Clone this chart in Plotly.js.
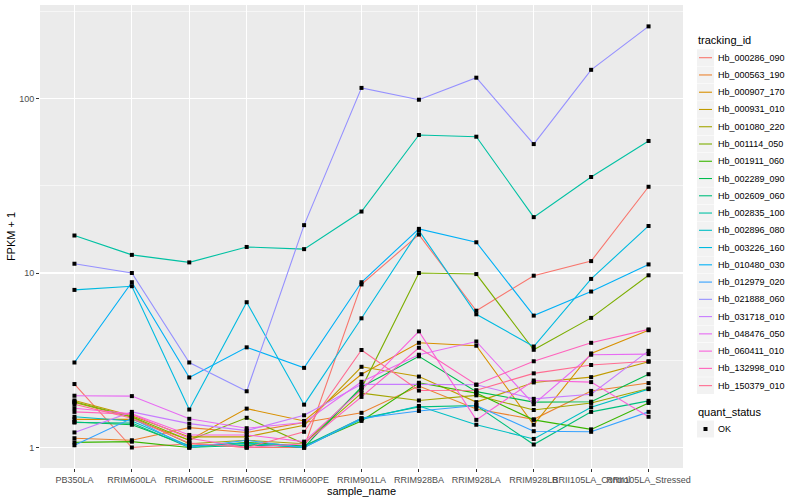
<!DOCTYPE html>
<html><head><meta charset="utf-8">
<script src="https://cdn.plot.ly/plotly-3.0.1.min.js"></script>
<style>html,body{margin:0;padding:0;background:#fff}</style>
</head><body><div id="chart" style="width:800px;height:500px"></div>
<script>
// ---- data ----
const sampleNames = ["PB350LA","RRIM600LA","RRIM600LE","RRIM600SE","RRIM600PE","RRIM901LA","RRIM928BA","RRIM928LA","RRIM928LB","RRII105LA_Control","RRII105LA_Stressed"];
const trackingIds = ["Hb_000286_090","Hb_000563_190","Hb_000907_170","Hb_000931_010","Hb_001080_220","Hb_001114_050","Hb_001911_060","Hb_002289_090","Hb_002609_060","Hb_002835_100","Hb_002896_080","Hb_003226_160","Hb_010480_030","Hb_012979_020","Hb_021888_060","Hb_031718_010","Hb_048476_050","Hb_060411_010","Hb_132998_010","Hb_150379_010"];
const fpkm_000286_090 = [2.31, 1.00, 1.05, 1.00, 1.00, 8.6, 16.6, 6.08, 9.65, 11.7, 31.2];
const fpkm_000563_190 = [1.13, 1.10, 1.30, 1.22, 1.39, 1.58, 2.25, 1.66, 1.45, 2.11, 2.34];
const fpkm_000907_170 = [1.45, 1.45, 1.10, 1.67, 1.42, 2.63, 3.98, 3.83, 1.35, 3.46, 4.70];
const fpkm_000931_010 = [1.86, 1.52, 1.15, 1.15, 1.34, 2.90, 2.55, 1.82, 2.36, 2.53, 3.10];
const fpkm_001080_220 = [1.81, 1.49, 1.05, 1.10, 1.05, 2.05, 1.86, 1.99, 1.64, 1.80, 2.18];
const fpkm_001114_050 = [1.83, 1.50, 1.10, 1.48, 1.05, 2.19, 10.0, 9.86, 3.63, 5.53, 9.70];
const fpkm_001911_060 = [1.07, 1.08, 1.00, 1.07, 1.02, 1.42, 2.35, 2.05, 1.44, 1.27, 1.80];
const fpkm_002289_090 = [1.40, 1.35, 1.02, 1.05, 1.00, 2.22, 3.33, 2.09, 1.82, 1.83, 2.63];
const fpkm_002609_060 = [1.39, 1.38, 1.00, 1.03, 1.02, 1.47, 1.71, 1.74, 1.04, 1.60, 1.85];
const fpkm_002835_100 = [16.4, 12.7, 11.5, 14.1, 13.7, 22.5, 61.8, 60.4, 20.9, 35.5, 57.1];
const fpkm_002896_080 = [1.50, 1.42, 1.02, 1.06, 1.00, 1.45, 1.73, 1.35, 1.12, 1.70, 2.16];
const fpkm_003226_160 = [8.0, 8.4, 1.65, 6.8, 1.76, 5.5, 17.5, 5.8, 3.79, 9.25, 18.6];
const fpkm_010480_030 = [3.07, 8.85, 2.52, 3.75, 2.86, 8.85, 17.9, 15.0, 5.7, 7.83, 11.2];
const fpkm_012979_020 = [1.03, 1.47, 1.00, 1.10, 1.00, 1.47, 1.62, 1.74, 1.24, 1.23, 1.60];
const fpkm_021888_060 = [11.3, 10.0, 3.07, 2.10, 18.8, 115, 98.4, 131.6, 54.8, 146, 259];
const fpkm_031718_010 = [1.22, 1.60, 1.37, 1.25, 1.53, 2.30, 2.30, 2.29, 1.90, 2.02, 3.58];
const fpkm_048476_050 = [1.98, 1.97, 1.46, 1.29, 1.39, 2.38, 3.40, 4.05, 1.77, 3.40, 3.43];
const fpkm_060411_010 = [1.68, 1.56, 1.18, 1.18, 1.08, 2.14, 4.63, 1.44, 2.42, 2.37, 1.50];
const fpkm_132998_010 = [1.60, 1.55, 1.13, 1.00, 1.05, 1.95, 3.73, 2.29, 3.12, 3.98, 4.75];
const fpkm_150379_010 = [1.77, 1.47, 1.06, 1.00, 1.23, 3.62, 2.12, 2.13, 2.66, 2.97, 3.12];
const seriesValues = [fpkm_000286_090, fpkm_000563_190, fpkm_000907_170, fpkm_000931_010, fpkm_001080_220, fpkm_001114_050, fpkm_001911_060, fpkm_002289_090, fpkm_002609_060, fpkm_002835_100, fpkm_002896_080, fpkm_003226_160, fpkm_010480_030, fpkm_012979_020, fpkm_021888_060, fpkm_031718_010, fpkm_048476_050, fpkm_060411_010, fpkm_132998_010, fpkm_150379_010];
const quantStatus = ["OK"];
const yTickVals = [1, 10, 100];
const yTickText = ["1", "10", "100"];

// ---- style ----
const colors = ["#F8766D","#EA8331","#D89000","#C09B00","#A3A500","#7CAE00","#39B600","#00BB4E","#00BF7D","#00C1A3","#00BFC4","#00BAE0","#00B0F6","#35A2FF","#9590FF","#C77CFF","#E76BF3","#FA62DB","#FF62BC","#FF6C91"];
const FONT = "Liberation Sans, Arial, Helvetica, sans-serif";
const W = 800, H = 500, M = {l: 40, r: 117, t: 5, b: 32};
const pw = W - M.l - M.r, ph = H - M.t - M.b;
const px = x => (x - M.l) / pw;
const py = y => (H - M.b - y) / ph;

const traces = [];
seriesValues.forEach((vals, i) => {
  traces.push({x: sampleNames, y: vals, type: "scatter", mode: "lines",
    line: {color: colors[i], width: 1.1}, name: trackingIds[i], hoverinfo: "skip"});
});
const allX = [], allY = [];
seriesValues.forEach(vals => vals.forEach((v, j) => { allX.push(sampleNames[j]); allY.push(v); }));
traces.push({x: allX, y: allY, type: "scatter", mode: "markers", name: quantStatus[0],
  marker: {symbol: "square", size: 4, color: "#000000"}, hoverinfo: "skip"});

// ---- manual ggplot-like legend ----
const shapes = [], annotations = [];
annotations.push({xref: "paper", yref: "paper", x: px(696), y: py(40), xanchor: "left", yanchor: "middle",
  text: "tracking_id", showarrow: false, font: {family: FONT, size: 11, color: "#000"}});
trackingIds.forEach((id, i) => {
  const c = 57.7 + 17.26 * i;
  shapes.push({type: "rect", xref: "paper", yref: "paper", x0: px(697), x1: px(714), y0: py(c + 8.4), y1: py(c - 8.4),
    fillcolor: "#F2F2F2", line: {width: 0}});
  shapes.push({type: "line", xref: "paper", yref: "paper", x0: px(699), x1: px(712), y0: py(c), y1: py(c),
    line: {color: colors[i], width: 1.1}});
  annotations.push({xref: "paper", yref: "paper", x: px(716), y: py(c), xanchor: "left", yanchor: "middle",
    text: id, showarrow: false, font: {family: FONT, size: 9, color: "#000"}});
});
annotations.push({xref: "paper", yref: "paper", x: px(696), y: py(412), xanchor: "left", yanchor: "middle",
  text: "quant_status", showarrow: false, font: {family: FONT, size: 11, color: "#000"}});
shapes.push({type: "rect", xref: "paper", yref: "paper", x0: px(697), x1: px(714), y0: py(437.5), y1: py(420.5),
  fillcolor: "#F2F2F2", line: {width: 0}});
shapes.push({type: "rect", xref: "paper", yref: "paper", x0: px(703.5), x1: px(707.5), y0: py(431), y1: py(427),
  fillcolor: "#000", line: {width: 0}});
annotations.push({xref: "paper", yref: "paper", x: px(716), y: py(429), xanchor: "left", yanchor: "middle",
  text: quantStatus[0], showarrow: false, font: {family: FONT, size: 9, color: "#000"}});

const layout = {
  width: W, height: H, autosize: false,
  margin: {l: M.l, r: M.r, t: M.t, b: M.b, pad: 0},
  paper_bgcolor: "#FFFFFF", plot_bgcolor: "#EBEBEB",
  showlegend: false,
  font: {family: FONT, color: "#000"},
  xaxis: {type: "category", range: [-0.6, 10.6], showgrid: true, gridcolor: "#FFFFFF", gridwidth: 1.1,
    zeroline: false, showline: false, ticks: "outside", ticklen: 3, tickwidth: 1, tickcolor: "#333333",
    tickangle: 0, tickfont: {family: FONT, size: 9, color: "#4D4D4D"},
    title: {text: "sample_name", font: {family: FONT, size: 11, color: "#000"}, standoff: 3}},
  yaxis: {type: "log", range: [-0.1175, 2.5358], tickmode: "array", tickvals: yTickVals, ticktext: yTickText,
    showgrid: true, gridcolor: "#FFFFFF", gridwidth: 1.1, zeroline: false, showline: false,
    ticks: "outside", ticklen: 3, tickwidth: 1, tickcolor: "#333333",
    tickfont: {family: FONT, size: 9, color: "#4D4D4D"},
    minor: {tickmode: "array", tickvals: [3.1623, 31.623, 316.23], showgrid: true, gridcolor: "#FFFFFF", gridwidth: 0.55, ticks: ""},
    title: {text: "FPKM + 1", font: {family: FONT, size: 11, color: "#000"}, standoff: 1}},
  shapes: shapes, annotations: annotations
};
Plotly.newPlot("chart", traces, layout, {staticPlot: true, displayModeBar: false});
</script></body></html>
